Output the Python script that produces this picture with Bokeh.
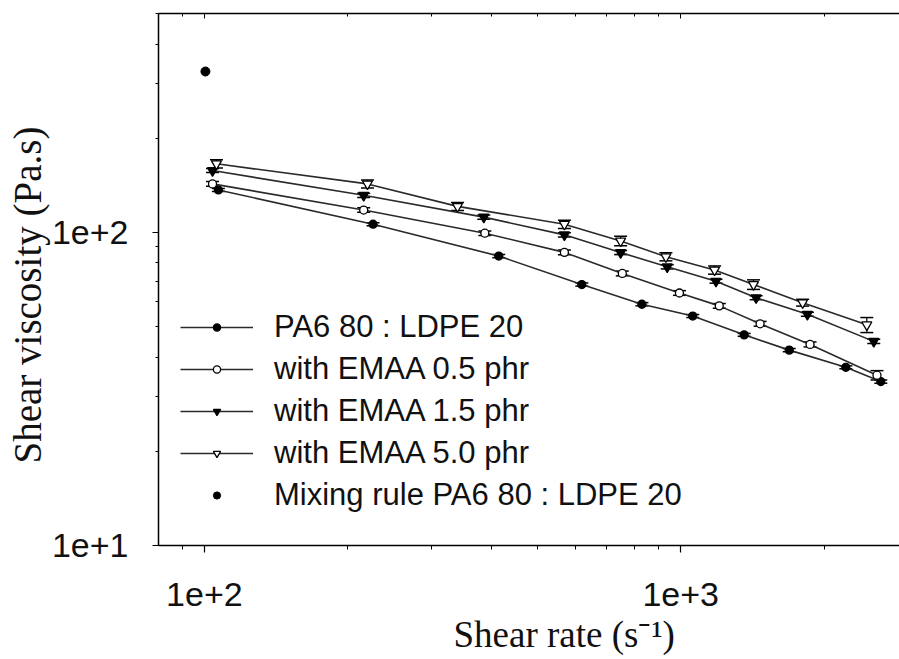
from bokeh.plotting import figure
from bokeh.models import (ColumnDataSource, Whisker, TeeHead, FixedTicker, LogAxis,
                          Legend, LegendItem, Title, Range1d)
from bokeh.embed import file_html
from bokeh.resources import INLINE

# ---------------- data ----------------
rate_pa6 = [107, 226, 415, 620, 829, 1060, 1359, 1690, 2222, 2631]
visc_pa6 = [136.8, 106.3, 84.1, 68.2, 59.0, 54.1, 47.1, 42.1, 37.1, 33.4]
err_pa6 = [1.5, 1.2, 1.0, 0.8, 0.7, 0.6, 0.5, 0.5, 0.4, 0.4]

rate_05 = [104, 216, 388, 570, 754, 994, 1205, 1468, 1869, 2583]
visc_05 = [143.0, 118.0, 99.5, 86.4, 74.0, 64.1, 58.3, 51.1, 43.9, 35.0]
err_05 = [2.5, 2.0, 1.7, 1.5, 1.3, 1.1, 1.0, 0.9, 0.8, 1.2]

rate_15 = [104, 216, 386, 570, 748, 937, 1186, 1440, 1845, 2543]
visc_15 = [157.8, 131.5, 112.0, 98.3, 86.3, 77.7, 69.9, 61.9, 54.8, 44.9]
err_15 = [2.4, 2.0, 1.7, 1.5, 1.3, 1.2, 1.0, 0.9, 0.8, 0.7]

rate_50 = [106, 220, 340, 570, 748, 931, 1178, 1422, 1803, 2459]
visc_50 = [165.8, 143.0, 121.2, 106.3, 94.0, 83.7, 75.9, 68.2, 59.7, 50.7]
err_50 = [5.0, 4.3, 3.6, 3.2, 3.3, 2.5, 2.3, 2.4, 1.5, 2.8]

rate_mix = [100.5]
visc_mix = [327.0]

series_labels = ["PA6 80 : LDPE 20", "with EMAA 0.5 phr", "with EMAA 1.5 phr",
                 "with EMAA 5.0 phr", "Mixing rule PA6 80 : LDPE 20"]

x_tick_values = [100, 1000]
x_tick_labels = ["1e+2", "1e+3"]
y_tick_values = [10, 100]
y_tick_labels = ["1e+1", "1e+2"]

x_title = "Shear rate (s\u207b\u00b9)"
y_title = "Shear viscosity (Pa.s)"

# ---------------- figure ----------------
p = figure(width=899, height=659, x_axis_type="log", y_axis_type="log",
           x_range=Range1d(80.1, 2880), y_range=Range1d(10, 501),
           output_backend="svg", toolbar_location=None,
           min_border_left=158, min_border_right=0, min_border_top=13,
           min_border_bottom=114)
p.outline_line_color = None
p.xgrid.visible = False
p.ygrid.visible = False
p.background_fill_color = "white"
p.border_fill_color = "white"

x_minor = [m * d for d in (10, 100, 1000) for m in range(2, 10)]
y_minor = [m * d for d in (1, 10, 100) for m in range(2, 10)]
xt = FixedTicker(ticks=x_tick_values, minor_ticks=x_minor)
yt = FixedTicker(ticks=y_tick_values, minor_ticks=y_minor)

tick_font = "Liberation Sans"
xa = p.xaxis[0]
xa.ticker = xt
xa.major_label_overrides = dict(zip(x_tick_values, x_tick_labels))
xa.major_label_text_font = tick_font
xa.major_label_text_font_size = "34px"
xa.major_label_text_color = "#111111"
xa.major_label_standoff = 30
xa.major_tick_out = 7
xa.major_tick_in = 0
xa.minor_tick_out = 4
xa.minor_tick_in = 0
xa.axis_line_width = 1.5
xa.major_tick_line_width = 1.2

ya = p.yaxis[0]
ya.ticker = yt
ya.major_label_overrides = dict(zip(y_tick_values, y_tick_labels))
ya.major_label_text_font = tick_font
ya.major_label_text_font_size = "34px"
ya.major_label_text_color = "#111111"
ya.major_label_standoff = 24
ya.major_tick_out = 6
ya.major_tick_in = 0
ya.minor_tick_out = 3
ya.minor_tick_in = 0
ya.axis_line_width = 1.5

top = LogAxis(ticker=FixedTicker(ticks=x_tick_values, minor_ticks=x_minor),
              major_label_text_font_size="0px", major_label_standoff=0,
              major_tick_in=5, major_tick_out=0, minor_tick_in=3, minor_tick_out=0,
              axis_line_width=1.5)
top.major_label_overrides = {v: "" for v in x_tick_values}
p.add_layout(top, "above")

# ---------------- series ----------------
line_col = "#2a2a2a"
specs = [
    (rate_pa6, visc_pa6, err_pa6, "circle", "black", 8),
    (rate_05, visc_05, err_05, "circle", "white", 8),
    (rate_15, visc_15, err_15, "inverted_triangle", "black", 10),
    (rate_50, visc_50, err_50, "inverted_triangle", "white", 10),
]

items = []
for (xs, ys, es, mk, fill, sz), lab in zip(specs, series_labels[:4]):
    src = ColumnDataSource(dict(x=xs, y=ys,
                                up=[a + b for a, b in zip(ys, es)],
                                lo=[a - b for a, b in zip(ys, es)]))
    w = Whisker(source=src, base="x", upper="up", lower="lo", dimension="height",
                line_color="black", line_width=1.2,
                upper_head=TeeHead(size=13, line_color="black", line_width=1.5),
                lower_head=TeeHead(size=13, line_color="black", line_width=1.5))
    p.add_layout(w)
    lr = p.line("x", "y", source=src, line_color=line_col, line_width=1.6)
    sr = p.scatter("x", "y", source=src, marker=mk, size=sz, fill_color=fill,
                   line_color="black", line_width=1.3)
    items.append(LegendItem(label=lab, renderers=[lr, sr]))

mix = p.scatter(rate_mix, visc_mix, marker="circle", size=9, fill_color="black",
                line_color="black")
items.append(LegendItem(label=series_labels[4], renderers=[mix]))

legend = Legend(items=items, location=(22, 32), padding=0, margin=0, spacing=6,
                glyph_width=73, glyph_height=18, label_height=18, label_standoff=21,
                label_text_font="Liberation Sans", label_text_font_size="31px",
                label_text_color="#111111", border_line_color=None,
                background_fill_alpha=0)
p.add_layout(legend, "center")

# ---------------- axis titles ----------------
xl = Title(text=x_title, align="left", offset=295, standoff=6,
           text_font="Liberation Serif", text_font_size="37px",
           text_font_style="normal", text_color="#111111")
yl = Title(text=y_title, align="left", offset=82, standoff=0,
           text_font="Liberation Serif", text_font_size="39px",
           text_font_style="normal", text_color="#111111")
p.add_layout(xl, "below")
p.add_layout(yl, "left")

open("out.html", "w").write(file_html(p, INLINE))
